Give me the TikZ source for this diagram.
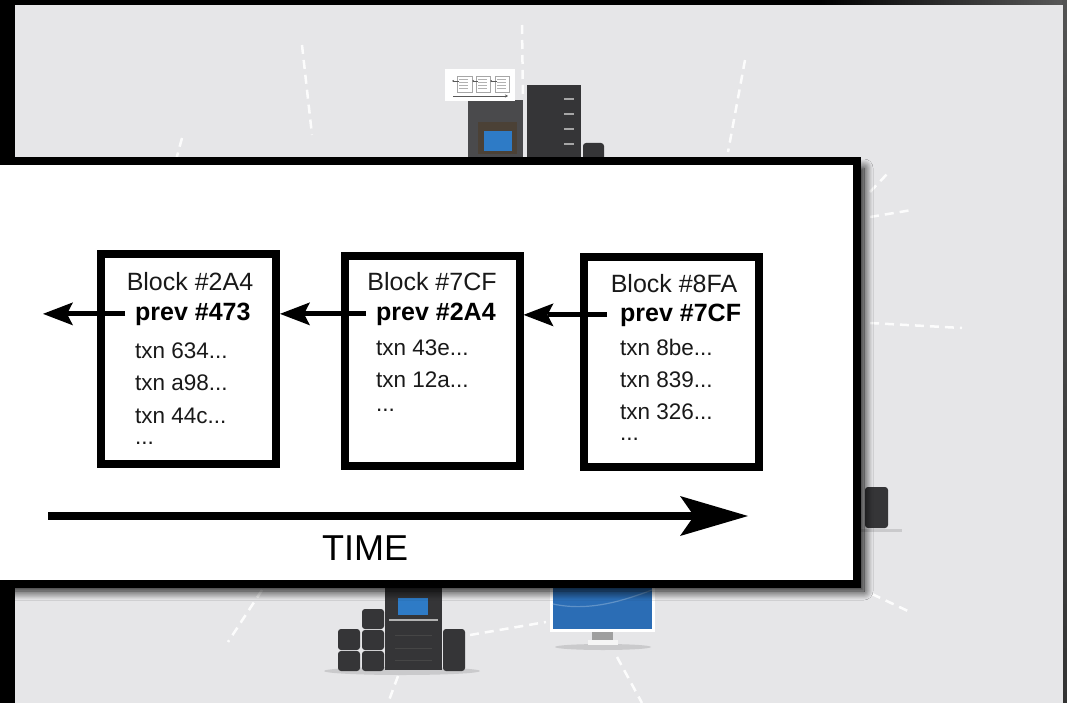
\documentclass[tikz,border=0pt]{standalone}
\usepackage{fontspec}
\setmainfont{Liberation Sans}
\usepackage{xcolor}
\usepackage{tikz}
\usetikzlibrary{arrows.meta,positioning,calc,shadows.blur}
\definecolor{NetPanel}{HTML}{E6E6E8}
\definecolor{NetServer}{HTML}{353537}
\definecolor{NetServerHi}{HTML}{4A4A4C}
\definecolor{NetScreen}{HTML}{2E7BC6}
\definecolor{NetMonitor}{HTML}{2B6DB5}
\definecolor{NetFrame}{HTML}{4B4136}
\definecolor{NetShadow}{HTML}{CACACC}

\begin{document}
\begin{tikzpicture}[x=1pt, y=-1pt, >=Stealth,
  block/.style={draw=black, line width=8pt, fill=white, minimum width=175pt, minimum height=210pt, inner sep=0pt},
  title/.style={font=\fontsize{25}{30}\selectfont, text=black!90, anchor=base, inner sep=0pt},
  prevtag/.style={font=\fontsize{25}{30}\selectfont\bfseries, anchor=base west, inner sep=0pt},
  txn/.style={font=\fontsize{22.5}{27}\selectfont, text=black!90, anchor=base west, inner sep=0pt},
  link/.style={-{Stealth[length=30pt, width=23pt, inset=6pt, line width=0pt, fill=black]}, line width=5pt},
  timeline/.style={-{Stealth[length=68pt, width=40pt, inset=14pt, line width=0pt, fill=black]}, line width=8pt},
  wire/.style={white, line width=2.5pt, dash pattern=on 9pt off 6pt, opacity=0.9},
  unit/.style={fill=NetServer, rounded corners=3pt},
  minibox/.style={draw=gray!70, line width=0.8pt},
  minitext/.style={gray!60, line width=0.6pt}]
\useasboundingbox (0,0) rectangle (1067,703);

% backdrop
\fill[black] (0,0) rectangle (1067,703);
\shade[left color=black, right color=gray!70!black] (820,0) rectangle (1067,6);
\shade[top color=gray!65!black, bottom color=black!80] (1062,0) rectangle (1067,703);
\fill[NetPanel] (15,5) rectangle (1063,703);

% network wires
\draw[wire] (522,25) -- (523,100);
\draw[wire] (302,45) -- (312,135);
\draw[wire] (745,60) -- (728,152);
\draw[wire] (182,138) -- (176,160);
\draw[wire] (870,192) -- (888,173);
\draw[wire] (870,217) -- (912,210);
\draw[wire] (870,323) -- (962,328);
\draw[wire] (872,594) -- (910,612);
\draw[wire] (262,590) -- (228,642);
\draw[wire] (470,635) -- (546,622);
\draw[wire] (617,657) -- (642,703);
\draw[wire] (398,676) -- (388,703);

% servers at the top
\fill[NetServerHi] (468,100) rectangle (523,165);
\fill[NetFrame] (478,122) rectangle (517,154);
\fill[NetScreen] (484,131) rectangle (512,151);
\fill[NetServer] (527,85) rectangle (581,165);
\foreach \y in {99,114,129,144}
  \draw[gray!70, line width=1.2pt] (564,\y) -- (574,\y);
\fill[unit] (583,143) rectangle (604,165);

% small device on the right
\fill[NetShadow] (860,529) rectangle (902,532);
\fill[unit] (865,487) rectangle (888,528);

% server cluster at the bottom
\fill[NetShadow] (402,671) ellipse [x radius=78pt, y radius=4pt];
\fill[NetServer] (385,575) rectangle (442,670);
\fill[NetScreen] (398,598) rectangle (428,615);
\draw[gray!60, line width=1.5pt] (389,620) -- (438,620);
\foreach \y in {635,648,660}
  \draw[gray!55!black, line width=1pt] (395,\y) -- (432,\y);
\fill[unit] (338,629) rectangle (360,650);
\fill[unit] (338,651) rectangle (360,671);
\fill[unit] (362,609) rectangle (384,629);
\fill[unit] (362,630) rectangle (384,650);
\fill[unit] (362,651) rectangle (384,671);
\fill[unit] (443,629) rectangle (465,671);

% monitor
\fill[NetShadow] (603,647) ellipse [x radius=48pt, y radius=3pt];
\fill[white] (550,575) rectangle (655,632);
\fill[NetMonitor] (553,575) rectangle (652,629);
\draw[NetMonitor!75!white, line width=1.2pt] (553,604) .. controls (590,612) and (625,600) .. (652,590);
\fill[gray!75] (592,632) rectangle (613,640);
\fill[white!92!gray] (588,640) rectangle (618,645);

% chain thumbnail
\fill[white] (445,69) rectangle (515,101);
\draw[minibox] (457,76) rectangle (472,92);
\draw[minibox] (476,76) rectangle (490,92);
\draw[minibox] (495,76) rectangle (509,92);
\foreach \x in {459,478,497}
  \foreach \y in {79,82,85,88}
    \draw[minitext] (\x,\y) -- (\x+9,\y);
\draw[gray!70!black, line width=0.6pt, -{Stealth[length=2pt, width=2pt]}] (497,81) -- (490,81);
\draw[gray!70!black, line width=0.6pt, -{Stealth[length=2pt, width=2pt]}] (478,81) -- (472,81);
\draw[gray!70!black, line width=0.6pt, -{Stealth[length=2pt, width=2pt]}] (459,81) -- (452,81);
\draw[gray!70!black, line width=0.8pt, -{Stealth[length=3pt, width=3pt]}] (453,96) -- (508,96);

% white sheet
\draw[line width=8pt, fill=white, blur shadow={shadow xshift=7pt, shadow yshift=-7pt, shadow blur radius=9pt, shadow blur steps=12, shadow opacity=95}] (-10,161) rectangle (857,584);

% blocks
\node[block] (b1) at (188.5,359) {};
\node[block] (b2) at (432,361) {};
\node[block] (b3) at (671.5,362) {};

\node[title] (t1) at (190,290) {Block \#2A4};
\node[prevtag] (p1) at (135,320) {prev \#473};
\node[txn] (x1a) at (135,358) {txn 634...};
\node[txn] (x1b) at (135,390.5) {txn a98...};
\node[txn] (x1c) at (135,423) {txn 44c...};
\node[txn] (x1d) at (135,444) {...};

\node[title] (t2) at (432,290) {Block \#7CF};
\node[prevtag] (p2) at (376,320) {prev \#2A4};
\node[txn] (x2a) at (376,355) {txn 43e...};
\node[txn] (x2b) at (376,387.5) {txn 12a...};
\node[txn] (x2c) at (376,411) {...};

\node[title] (t3) at (674,292) {Block \#8FA};
\node[prevtag] (p3) at (620,321) {prev \#7CF};
\node[txn] (x3a) at (620,355) {txn 8be...};
\node[txn] (x3b) at (620,387) {txn 839...};
\node[txn] (x3c) at (620,419) {txn 326...};
\node[txn] (x3d) at (620,440) {...};

% back links
\coordinate (older) at (43,313);
\draw[link] ([xshift=-10pt]p1.west) -- (older |- p1.west);
\draw[link] ([xshift=-10pt]p2.west) -- (p2.west -| b1.east);
\draw[link] ([xshift=-13pt]p3.west) -- (p3.west -| b2.east);

% time axis
\coordinate (tstart) at (48,516);
\coordinate (tend) at (748,516);
\draw[timeline] (tstart) -- (tend);
\node[font=\fontsize{36}{40}\selectfont, anchor=base, inner sep=0pt] (timetag) at (365,560) {TIME};
\end{tikzpicture}
\end{document}
